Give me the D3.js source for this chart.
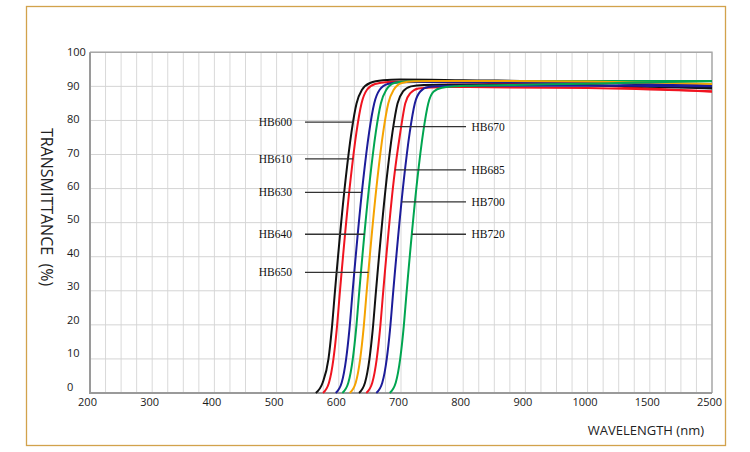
<!DOCTYPE html>
<html>
<head>
<meta charset="utf-8">
<script src="https://cdn.jsdelivr.net/npm/d3@7"></script>
<style>
  body { margin: 0; background: #fff; }
  svg { display: block; }
</style>
</head>
<body>
<div id="chart"></div>
<script>
var svgWidth = 750;
var svgHeight = 452;

// plot box inside the page
var plot = { left: 90, right: 712, top: 52.3, bottom: 393 };

// x axis ticks (equal spacing, not linear in nm)
var xTicks = [200, 300, 400, 500, 600, 700, 800, 900, 1000, 1500, 2500];
var yTicks = [0, 10, 20, 30, 40, 50, 60, 70, 80, 90, 100];

// curves: [wavelength nm, transmittance %]
var hb600 = [[563, 0], [574, 3], [583.4, 10], [588.6, 18.5], [593.9, 30], [610.8, 62.5], [620.4, 76.6], [628.5, 85], [637.3, 89], [650.2, 91], [671, 91.8], [698, 92], [800, 91.8], [1000, 91.3], [1500, 90.5], [2500, 89.5]];
var hb610 = [[574.6, 0], [584.2, 3], [591.4, 10], [596.6, 18.5], [601.9, 30], [618.8, 62.5], [628.4, 76.6], [636.5, 85], [645.3, 89], [658.2, 90.7], [679, 91.3], [706, 91.4], [800, 91.1], [1000, 90.4], [1500, 89.4], [2500, 88.4]];
var hb630 = [[595, 0], [604.6, 3], [611.8, 10], [617, 18.5], [622.3, 30], [639.2, 62.5], [648.8, 76.6], [656.9, 85], [665.7, 89], [678.6, 90.7], [699.5, 91.2], [727, 91.3], [800, 91.2], [1000, 91], [1500, 90.7], [2500, 90.3]];
var hb640 = [[605.7, 0], [615.3, 3], [622.5, 10], [627.7, 18.5], [633, 30], [649.9, 62.5], [659.5, 76.6], [667.6, 85], [676.4, 89], [689.3, 91], [710, 91.5], [737.5, 91.6], [800, 91.6], [1000, 91.6], [1500, 91.6], [2500, 91.6]];
var hb650 = [[617.6, 0], [627.2, 3], [634.4, 10], [639.6, 18.5], [644.9, 30], [661.8, 62.5], [671.4, 76.6], [679.5, 85], [688.3, 89], [701.2, 91], [722, 91.5], [749, 91.6], [800, 91.6], [1000, 91.4], [1500, 91.1], [2500, 90.7]];
var hb670 = [[632.5, 0], [642.1, 3], [649.3, 10], [654.5, 18.5], [659.8, 30], [676.7, 62.5], [686.3, 76.6], [694.4, 85], [703.2, 88.5], [716, 90], [737, 90.4], [764, 90.5], [800, 90.5], [1000, 90.3], [1500, 89.9], [2500, 89.4]];
var hb685 = [[644.2, 0], [653.8, 3], [661, 10], [666.2, 18.5], [671.5, 30], [688.4, 62.5], [699, 76.6], [706.8, 85], [715, 88], [728, 89.4], [749, 89.7], [776, 89.8], [1000, 89.5], [1500, 89.1], [2500, 88.6]];
var hb700 = [[660.3, 0], [669.9, 3], [677.1, 10], [682.3, 18.5], [687.6, 30], [704.5, 62.5], [714.1, 76.6], [722.2, 85], [731, 88.5], [744, 89.8], [765, 90.1], [792, 90.2], [1000, 90.2], [1500, 90.1], [2500, 90]];
var hb720 = [[681.9, 0], [691.5, 3], [698.7, 10], [703.9, 18.5], [709.2, 30], [726.1, 62.5], [735.7, 76.6], [743.8, 85], [752.6, 88.5], [765.5, 89.6], [786, 90], [813, 90.2], [900, 90.5], [1000, 90.8], [1500, 91.2], [2500, 91.5]];

var curveNames = ["HB600", "HB610", "HB630", "HB640", "HB650", "HB670", "HB685", "HB700", "HB720"];
var curveData = [hb600, hb610, hb630, hb640, hb650, hb670, hb685, hb700, hb720];
var curveColors = ["#111111", "#f01420", "#1c1c9a", "#00a550", "#f5a300", "#111111", "#f01420", "#1c1c9a", "#00a550"];

// label callouts: transmittance level where the leader line touches the curve
var leftLabels = ["HB600", "HB610", "HB630", "HB640", "HB650"];
var leftLabelT = [79.5, 68.7, 58.9, 46.6, 35.4];
var rightLabels = ["HB670", "HB685", "HB700", "HB720"];
var rightLabelT = [78.2, 65.5, 56.1, 46.6];

var svg = d3
  .select("#chart")
  .append("svg")
  .attr("width", svgWidth)
  .attr("height", svgHeight);

// outer frame
svg.append("rect")
  .attr("x", 26.5)
  .attr("y", 6.5)
  .attr("width", 699)
  .attr("height", 439)
  .attr("fill", "none")
  .attr("stroke", "#d2a24c")
  .attr("stroke-width", 1.3);

// scales
var xScale = d3.scaleLinear()
  .domain(xTicks)
  .range(xTicks.map((d, i) => plot.left + i * (plot.right - plot.left) / (xTicks.length - 1)));

var yScale = d3.scaleLinear()
  .domain([0, 100])
  .range([plot.bottom, plot.top]);

// tick labels drift a little against the grid in the original
var yLabelScale = d3.scaleLinear()
  .domain([0, 100])
  .range([386.7, 52.3]);

// vertical grid: four cells per tick interval
var xGrid = [];
for (var i = 0; i < xTicks.length - 1; i++) {
  var step = (xTicks[i + 1] - xTicks[i]) / 4;
  for (var k = 0; k < 4; k++) xGrid.push(xTicks[i] + k * step);
}
xGrid.push(xTicks[xTicks.length - 1]);

var gridGroup = svg.append("g");

gridGroup.selectAll("line.vg")
  .data(xGrid)
  .enter()
  .append("line")
  .attr("class", "vg")
  .attr("x1", d => xScale(d))
  .attr("x2", d => xScale(d))
  .attr("y1", plot.top)
  .attr("y2", plot.bottom)
  .attr("stroke", "#d9d9d9")
  .attr("stroke-width", 1);

gridGroup.selectAll("line.hg")
  .data(yTicks)
  .enter()
  .append("line")
  .attr("class", "hg")
  .attr("x1", plot.left)
  .attr("x2", plot.right)
  .attr("y1", d => yScale(d))
  .attr("y2", d => yScale(d))
  .attr("stroke", "#d4d4d4")
  .attr("stroke-width", 1);

// plot border: top and right light, left and bottom heavier
svg.append("path")
  .attr("d", `M${plot.left},${plot.top}H${plot.right}V${plot.bottom}`)
  .attr("fill", "none")
  .attr("stroke", "#a8a8a8")
  .attr("stroke-width", 1.4);

svg.append("path")
  .attr("d", `M${plot.left},${plot.top}V${plot.bottom}H${plot.right}`)
  .attr("fill", "none")
  .attr("stroke", "#9a9a9a")
  .attr("stroke-width", 2);

// tick labels
svg.append("g").selectAll("text")
  .data(yTicks)
  .enter()
  .append("text")
  .attr("x", 67)
  .attr("y", d => yLabelScale(d))
  .attr("dy", "0.36em")
  .attr("font-family", "Open Sans, sans-serif")
  .attr("font-size", 11)
  .attr("fill", "#1a1a1a")
  .text(d => d);

svg.append("g").selectAll("text")
  .data(xTicks)
  .enter()
  .append("text")
  .attr("x", d => xScale(d) - 2.5)
  .attr("y", 405.5)
  .attr("text-anchor", "middle")
  .attr("font-family", "Open Sans, sans-serif")
  .attr("font-size", 11)
  .attr("fill", "#1a1a1a")
  .text(d => d);

// axis titles
svg.append("text")
  .attr("transform", "translate(47,207) rotate(90)")
  .attr("text-anchor", "middle")
  .attr("dy", "0.36em")
  .attr("font-family", "Open Sans, sans-serif")
  .attr("font-size", 16)
  .attr("fill", "#222")
  .style("white-space", "pre")
  .text("TRANSMITTANCE  (%)");

svg.append("text")
  .attr("x", 704)
  .attr("y", 435)
  .attr("text-anchor", "end")
  .attr("font-family", "Open Sans, sans-serif")
  .attr("font-size", 13)
  .attr("fill", "#222")
  .text("WAVELENGTH (nm)");

// curves
var line = d3.line()
  .x(d => xScale(d[0]))
  .y(d => yScale(d[1]))
  .curve(d3.curveMonotoneX);

svg.append("g").selectAll("path")
  .data(curveData)
  .enter()
  .append("path")
  .attr("d", d => line(d))
  .attr("fill", "none")
  .attr("stroke", (d, i) => curveColors[i])
  .attr("stroke-width", 2);

// x position on a curve at a given transmittance (rising part)
function xAtT(points, t) {
  for (var j = 0; j < points.length - 1; j++) {
    var a = points[j], b = points[j + 1];
    if (a[1] <= t && b[1] >= t) {
      var f = (t - a[1]) / (b[1] - a[1]);
      return xScale(a[0] + f * (b[0] - a[0]));
    }
  }
  return xScale(points[0][0]);
}

// callouts
var labelGroup = svg.append("g")
  .attr("font-family", "Liberation Serif, Times New Roman, serif")
  .attr("font-size", 11.5)
  .attr("fill", "#111");

leftLabels.forEach(function(name, i) {
  var pts = curveData[curveNames.indexOf(name)];
  var yy = yScale(leftLabelT[i]);
  labelGroup.append("line")
    .attr("x1", 305)
    .attr("x2", xAtT(pts, leftLabelT[i]))
    .attr("y1", yy)
    .attr("y2", yy)
    .attr("stroke", "#333")
    .attr("stroke-width", 1.3);
  labelGroup.append("text")
    .attr("x", 292)
    .attr("y", yy)
    .attr("dy", "0.35em")
    .attr("text-anchor", "end")
    .text(name);
});

rightLabels.forEach(function(name, i) {
  var pts = curveData[curveNames.indexOf(name)];
  var yy = yScale(rightLabelT[i]);
  labelGroup.append("line")
    .attr("x1", xAtT(pts, rightLabelT[i]))
    .attr("x2", 466)
    .attr("y1", yy)
    .attr("y2", yy)
    .attr("stroke", "#333")
    .attr("stroke-width", 1.3);
  labelGroup.append("text")
    .attr("x", 471.5)
    .attr("y", yy)
    .attr("dy", "0.35em")
    .text(name);
});
</script>
</body>
</html>
